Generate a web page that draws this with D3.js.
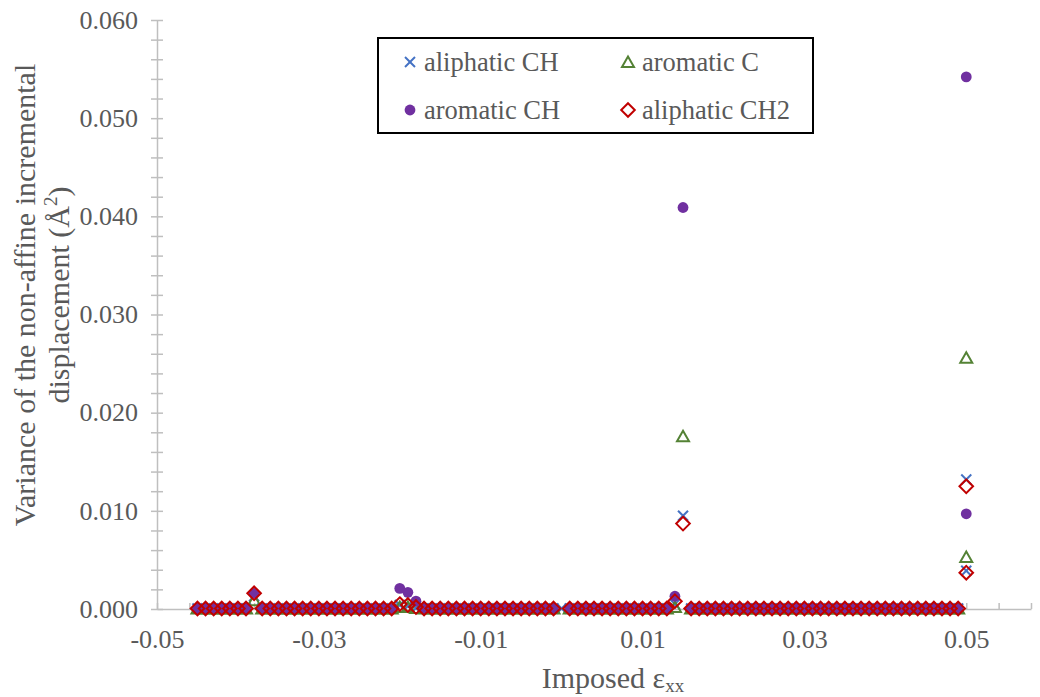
<!DOCTYPE html>
<html>
<head>
<meta charset="utf-8">
<script src="https://cdn.jsdelivr.net/npm/d3@7"></script>
<style>
  html, body { margin: 0; padding: 0; background: #ffffff; }
  svg { display: block; }
  text { font-family: "Liberation Serif", "Times New Roman", serif; fill: #595959; }
</style>
</head>
<body>
<svg id="chart" width="1040" height="697"></svg>
<script>
// Imposed strain steps (two readings at 0.050)
const strain = [
  -0.045, -0.044, -0.043, -0.042, -0.041, -0.040, -0.039, -0.038, -0.037, -0.036,
  -0.035, -0.034, -0.033, -0.032, -0.031, -0.030, -0.029, -0.028, -0.027, -0.026,
  -0.025, -0.024, -0.023, -0.022, -0.021, -0.020, -0.019, -0.018, -0.017, -0.016,
  -0.015, -0.014, -0.013, -0.012, -0.011, -0.010, -0.009, -0.008, -0.007, -0.006,
  -0.005, -0.004, -0.003, -0.002, -0.001,  0.000,  0.001,  0.002,  0.003,  0.004,
   0.005,  0.006,  0.007,  0.008,  0.009,  0.010,  0.011,  0.012,  0.013,  0.014,
   0.015,  0.016,  0.017,  0.018,  0.019,  0.020,  0.021,  0.022,  0.023,  0.024,
   0.025,  0.026,  0.027,  0.028,  0.029,  0.030,  0.031,  0.032,  0.033,  0.034,
   0.035,  0.036,  0.037,  0.038,  0.039,  0.040,  0.041,  0.042,  0.043,  0.044,
   0.045,  0.046,  0.047,  0.048,  0.049,  0.050,  0.050
];

// Variance of the non-affine incremental displacement (Å²), one array per atom type
const aliphaticCH = [
  0.00005, 0.00005, 0.00005, 0.00005, 0.00005, 0.00005, 0.00005, 0.0013, 0.00005, 0.00005,
  0.00005, 0.00005, 0.00005, 0.00005, 0.00005, 0.00005, 0.00005, 0.00005, 0.00005, 0.00005,
  0.00005, 0.00005, 0.00005, 0.00005, 0.00005, 0.0004, 0.0003, 0.0001, 0.00005, 0.00005,
  0.00005, 0.00005, 0.00005, 0.00005, 0.00005, 0.00005, 0.00005, 0.00005, 0.00005, 0.00005,
  0.00005, 0.00005, 0.00005, 0.00005, 0.00005, 0.00005, 0.00005, 0.00005, 0.00005, 0.00005,
  0.00005, 0.00005, 0.00005, 0.00005, 0.00005, 0.00005, 0.00005, 0.00005, 0.00005, 0.0005,
  0.0095, 0.00005, 0.00005, 0.00005, 0.00005, 0.00005, 0.00005, 0.00005, 0.00005, 0.00005,
  0.00005, 0.00005, 0.00005, 0.00005, 0.00005, 0.00005, 0.00005, 0.00005, 0.00005, 0.00005,
  0.00005, 0.00005, 0.00005, 0.00005, 0.00005, 0.00005, 0.00005, 0.00005, 0.00005, 0.00005,
  0.00005, 0.00005, 0.00005, 0.00005, 0.00005, 0.0132, 0.0039
];
const aromaticC = [
  0.00005, 0.00005, 0.00005, 0.00005, 0.00005, 0.00005, 0.00005, 0.0009, 0.00005, 0.00005,
  0.00005, 0.00005, 0.00005, 0.00005, 0.00005, 0.00005, 0.00005, 0.00005, 0.00005, 0.00005,
  0.00005, 0.00005, 0.00005, 0.00005, 0.00005, 0.0002, 0.0002, 0.0001, 0.00005, 0.00005,
  0.00005, 0.00005, 0.00005, 0.00005, 0.00005, 0.00005, 0.00005, 0.00005, 0.00005, 0.00005,
  0.00005, 0.00005, 0.00005, 0.00005, 0.00005, null, 0.00005, 0.00005, 0.00005, 0.00005,
  0.00005, 0.00005, 0.00005, 0.00005, 0.00005, 0.00005, 0.00005, 0.00005, 0.00005, 0.0002,
  0.0176, 0.00005, 0.00005, 0.00005, 0.00005, 0.00005, 0.00005, 0.00005, 0.00005, 0.00005,
  0.00005, 0.00005, 0.00005, 0.00005, 0.00005, 0.00005, 0.00005, 0.00005, 0.00005, 0.00005,
  0.00005, 0.00005, 0.00005, 0.00005, 0.00005, 0.00005, 0.00005, 0.00005, 0.00005, 0.00005,
  0.00005, 0.00005, 0.00005, 0.00005, 0.00005, 0.0256, 0.0053
];
const aromaticCH = [
  0.00005, 0.00005, 0.00005, 0.00005, 0.00005, 0.00005, 0.00005, 0.0016, 0.00005, 0.00005,
  0.00005, 0.00005, 0.00005, 0.00005, 0.00005, 0.00005, 0.00005, 0.00005, 0.00005, 0.00005,
  0.00005, 0.00005, 0.00005, 0.00005, 0.00005, 0.0021, 0.0017, 0.0008, 0.00005, 0.00005,
  0.00005, 0.00005, 0.00005, 0.00005, 0.00005, 0.00005, 0.00005, 0.00005, 0.00005, 0.00005,
  0.00005, 0.00005, 0.00005, 0.00005, 0.00005, null, 0.00005, 0.00005, 0.00005, 0.00005,
  0.00005, 0.00005, 0.00005, 0.00005, 0.00005, 0.00005, 0.00005, 0.00005, 0.00005, 0.0013,
  0.0409, 0.00005, 0.00005, 0.00005, 0.00005, 0.00005, 0.00005, 0.00005, 0.00005, 0.00005,
  0.00005, 0.00005, 0.00005, 0.00005, 0.00005, 0.00005, 0.00005, 0.00005, 0.00005, 0.00005,
  0.00005, 0.00005, 0.00005, 0.00005, 0.00005, 0.00005, 0.00005, 0.00005, 0.00005, 0.00005,
  0.00005, 0.00005, 0.00005, 0.00005, 0.00005, 0.0542, 0.0097
];
const aliphaticCH2 = [
  0.00005, 0.00005, 0.00005, 0.00005, 0.00005, 0.00005, 0.00005, 0.0016, 0.00005, 0.00005,
  0.00005, 0.00005, 0.00005, 0.00005, 0.00005, 0.00005, 0.00005, 0.00005, 0.00005, 0.00005,
  0.00005, 0.00005, 0.00005, 0.00005, 0.00005, 0.0005, 0.0004, 0.0002, 0.00005, 0.00005,
  0.00005, 0.00005, 0.00005, 0.00005, 0.00005, 0.00005, 0.00005, 0.00005, 0.00005, 0.00005,
  0.00005, 0.00005, 0.00005, 0.00005, 0.00005, null, 0.00005, 0.00005, 0.00005, 0.00005,
  0.00005, 0.00005, 0.00005, 0.00005, 0.00005, 0.00005, 0.00005, 0.00005, 0.00005, 0.0008,
  0.0087, 0.00005, 0.00005, 0.00005, 0.00005, 0.00005, 0.00005, 0.00005, 0.00005, 0.00005,
  0.00005, 0.00005, 0.00005, 0.00005, 0.00005, 0.00005, 0.00005, 0.00005, 0.00005, 0.00005,
  0.00005, 0.00005, 0.00005, 0.00005, 0.00005, 0.00005, 0.00005, 0.00005, 0.00005, 0.00005,
  0.00005, 0.00005, 0.00005, 0.00005, 0.00005, 0.0125, 0.0037
];

const seriesNames = ["aliphatic CH", "aromatic C", "aromatic CH", "aliphatic CH2"];

// Axis tick labels
const xTickValues = [-0.05, -0.03, -0.01, 0.01, 0.03, 0.05];
const xTickLabels = ["-0.05", "-0.03", "-0.01", "0.01", "0.03", "0.05"];
const yTickValues = [0, 0.01, 0.02, 0.03, 0.04, 0.05, 0.06];
const yTickLabels = ["0.000", "0.010", "0.020", "0.030", "0.040", "0.050", "0.060"];

const svg = d3.select("#chart");

const x = d3.scaleLinear().domain([-0.05, 0.058]).range([157, 1031]);
const y = d3.scaleLinear().domain([0, 0.06]).range([609, 20]);

const axisColor = "#bfbfbf";

// Minor tick positions along each axis
const xMinor = d3.range(0, 28).map(k => -0.05 + k * 0.004);
const yMinor = d3.range(0, 31).map(k => k * 0.002);

// X axis line with inward ticks
const gx = svg.append("g").attr("transform", `translate(0,${y(0)})`)
  .call(d3.axisBottom(x).tickValues(xMinor).tickSizeInner(-6).tickSizeOuter(0).tickFormat(""));
gx.select(".domain").attr("stroke", axisColor).attr("stroke-width", 1.5);
gx.selectAll(".tick line").attr("stroke", axisColor).attr("stroke-width", 1.5);

// Y axis line with crossing ticks
const gy = svg.append("g").attr("transform", `translate(${x(-0.05)},0)`)
  .call(d3.axisLeft(y).tickValues(yMinor).tickSizeInner(6).tickSizeOuter(0).tickFormat(""));
gy.select(".domain").attr("stroke", axisColor).attr("stroke-width", 1.5);
gy.selectAll(".tick line").attr("x1", 6).attr("x2", -6).attr("stroke", axisColor).attr("stroke-width", 1.5);

// Tick labels
const gxl = svg.append("g").attr("transform", `translate(0,${y(0)})`)
  .call(d3.axisBottom(x).tickValues(xTickValues).tickSize(0).tickPadding(21)
    .tickFormat((d, i) => xTickLabels[i]));
gxl.select(".domain").remove();
gxl.selectAll("text").attr("font-size", 26).attr("font-family", null).attr("fill", "#595959");

const gyl = svg.append("g").attr("transform", `translate(${x(-0.05)},0)`)
  .call(d3.axisLeft(y).tickValues(yTickValues).tickSize(0).tickPadding(19)
    .tickFormat((d, i) => yTickLabels[i]));
gyl.select(".domain").remove();
gyl.selectAll("text").attr("font-size", 26).attr("font-family", null).attr("fill", "#595959");

// Marker shapes
const markers = {
  cross: g => {
    g.append("line").attr("x1", -5).attr("y1", -5).attr("x2", 5).attr("y2", 5);
    g.append("line").attr("x1", -5).attr("y1", 5).attr("x2", 5).attr("y2", -5);
    g.attr("stroke", "#4472c4").attr("stroke-width", 2).attr("fill", "none");
  },
  triangle: g => {
    g.append("path").attr("d", "M0,-5.5L6,5L-6,5Z")
      .attr("stroke", "#548235").attr("stroke-width", 2).attr("fill", "none");
  },
  circle: g => {
    g.append("circle").attr("r", 5.4).attr("fill", "#7030a0");
  },
  diamond: g => {
    g.append("path").attr("d", "M0,-6.8L6.8,0L0,6.8L-6.8,0Z")
      .attr("stroke", "#c00000").attr("stroke-width", 2).attr("fill", "none");
  }
};

const series = [
  { name: seriesNames[0], values: aliphaticCH, marker: "cross" },
  { name: seriesNames[1], values: aromaticC, marker: "triangle" },
  { name: seriesNames[2], values: aromaticCH, marker: "circle" },
  { name: seriesNames[3], values: aliphaticCH2, marker: "diamond" }
];

const plot = svg.append("g");
series.forEach(s => {
  const pts = strain.map((sx, i) => ({ sx, v: s.values[i] })).filter(p => p.v != null);
  plot.append("g").selectAll("g").data(pts).join("g")
    .attr("transform", p => `translate(${x(p.sx)},${y(p.v)})`)
    .each(function () { markers[s.marker](d3.select(this)); });
});

// Legend
const legend = svg.append("g");
legend.append("rect").attr("x", 378).attr("y", 38).attr("width", 435).attr("height", 95)
  .attr("fill", "#ffffff").attr("stroke", "#000000").attr("stroke-width", 2);
const legendPos = [[410, 62], [628, 62], [410, 110], [628, 110]];
series.forEach((s, i) => {
  const [lx, ly] = legendPos[i];
  const mg = legend.append("g").attr("transform", `translate(${lx},${ly})`);
  markers[s.marker](mg);
  legend.append("text").attr("x", lx + 14).attr("y", ly + 9)
    .attr("font-size", 26.5).text(s.name);
});

// Axis titles
const xt = svg.append("text").attr("x", 613).attr("y", 688).attr("text-anchor", "middle").attr("font-size", 30);
xt.append("tspan").text("Imposed ε");
xt.append("tspan").attr("font-size", 19).attr("dy", 4).text("xx");

const yt = svg.append("g").attr("transform", "translate(0,295)");
yt.append("text").attr("transform", "translate(35,0) rotate(-90)").attr("text-anchor", "middle")
  .attr("font-size", 30).text("Variance of the non-affine incremental");
const yt2 = yt.append("text").attr("transform", "translate(69,0) rotate(-90)").attr("text-anchor", "middle")
  .attr("font-size", 30);
yt2.append("tspan").text("displacement (Å");
yt2.append("tspan").attr("font-size", 19).attr("dy", -12).text("2");
yt2.append("tspan").attr("dy", 12).text(")");
</script>
</body>
</html>
